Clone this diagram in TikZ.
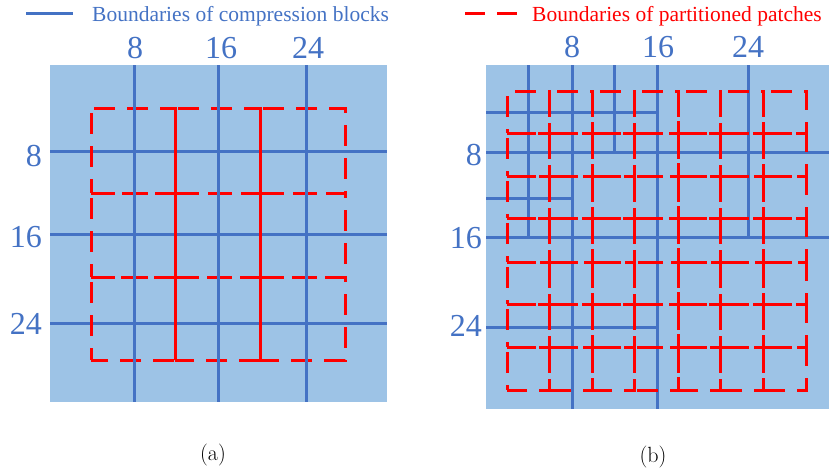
\documentclass[tikz,border=0pt]{standalone}
\usepackage{fontspec}
\newfontfamily\tnr{Liberation Serif}
\definecolor{bgblue}{HTML}{9DC3E6}
\definecolor{lineblue}{HTML}{4472C4}
\definecolor{patchred}{HTML}{FF0000}
\tikzset{
  bgbox/.style={fill=bgblue, draw=none},
  blockline/.style={draw=lineblue, line width=3pt},
  patchline/.style={draw=patchred, line width=3pt},
  topdashA/.style={patchline, dash pattern=on 21pt off 12pt, dash phase=30pt},
  rightdashA/.style={patchline, dash pattern=on 21pt off 12pt, dash phase=16pt},
  topdashB/.style={patchline, dash pattern=on 21pt off 12pt, dash phase=25pt},
  leftdash/.style={patchline, dash pattern=on 21pt off 12pt, dash phase=28pt},
  numlabel/.style={font=\tnr\fontsize{32}{32}\selectfont, text=lineblue, inner sep=0pt},
  legendtext/.style={font=\tnr\fontsize{21.5}{22}\selectfont, inner sep=0pt},
  captext/.style={font=\fontsize{22}{22}\selectfont, inner sep=0pt}
}
\begin{document}
\begin{tikzpicture}[x=1pt,y=-1pt]
\useasboundingbox (0,0) rectangle (829,475);

% ---------- legends ----------
\coordinate (lgA1) at (26,13);
\coordinate (lgA2) at (73,13);
\draw[blockline] (lgA1) -- (lgA2);
\node[legendtext, text=lineblue, anchor=base west] (legA) at (92,21) {Boundaries of compression blocks};
\coordinate (lgB1) at (465,13);
\coordinate (lgB2) at (517,13);
\draw[patchline, dash pattern=on 20pt off 12pt] (lgB1) -- (lgB2);
\node[legendtext, text=patchred, anchor=base west] (legB) at (532,21) {Boundaries of partitioned patches};

% ---------- panel (a) ----------
\fill[bgbox] (50,65) rectangle (387,402);
% red patches (horizontal parts below the blue lines)
\foreach \xa/\xb in {91/175,175/260,260/345}{
  \foreach \ya/\yb in {108/193,193/277,277/360}{
    \draw[topdashA] (\xa,\ya) -- (\xb,\ya) -- (\xb,\yb) -- (\xa,\yb);
  }
}
% blue block boundaries
\foreach \x in {134,218,306}{\draw[blockline] (\x,65) -- (\x,402);}
\foreach \y in {151,234,323}{\draw[blockline] (50,\y) -- (387,\y);}
% red vertical parts above the blue lines
\foreach \xa/\xb in {91/175,175/260,260/345}{
  \foreach \ya/\yb in {108/193,193/277,277/360}{
    \draw[rightdashA] (\xb,\ya) -- (\xb,\yb);
    \draw[leftdash] (\xa,\ya) -- (\xa,\yb);
  }
}
% labels
\node[numlabel, anchor=base] (at8)  at (135,58) {8};
\node[numlabel, anchor=base] (at16) at (221,58) {16};
\node[numlabel, anchor=base] (at24) at (308,58) {24};
\node[numlabel, anchor=base east] (al8)  at (42,166) {8};
\node[numlabel, anchor=base east] (al16) at (42,247) {16};
\node[numlabel, anchor=base east] (al24) at (42,334) {24};
\node[captext] (capA) at (213,455) {(a)};

% ---------- panel (b) ----------
\fill[bgbox] (486,65) rectangle (829,409);
% blue block boundaries
\draw[blockline] (528,65) -- (528,237);
\draw[blockline] (572,65) -- (572,409);
\draw[blockline] (614,65) -- (614,152);
\draw[blockline] (657,65) -- (657,409);
\draw[blockline] (748,65) -- (748,237);
\draw[blockline] (486,112) -- (657,112);
\draw[blockline] (486,152) -- (829,152);
\draw[blockline] (486,198) -- (572,198);
\draw[blockline] (486,237) -- (829,237);
\draw[blockline] (486,327) -- (657,327);
% red patches
\foreach \xa/\xb in {507/549,549/592,592/634,634/678,678/720,720/763,763/806}{
  \foreach \ya/\yb in {91/133,133/176,176/218,218/262,262/304,304/347,347/390}{
    \draw[topdashB] (\xa,\ya) -- (\xb,\ya) -- (\xb,\yb) -- (\xa,\yb);
    \draw[leftdash] (\xa,\ya) -- (\xa,\yb);
  }
}
% labels
\node[numlabel, anchor=base] (bt8)  at (572,57) {8};
\node[numlabel, anchor=base] (bt16) at (658,57) {16};
\node[numlabel, anchor=base] (bt24) at (748,57) {24};
\node[numlabel, anchor=base east] (bl8)  at (482,165) {8};
\node[numlabel, anchor=base east] (bl16) at (482,248) {16};
\node[numlabel, anchor=base east] (bl24) at (482,336) {24};
\node[captext] (capB) at (653,457) {(b)};
\end{tikzpicture}
\end{document}
